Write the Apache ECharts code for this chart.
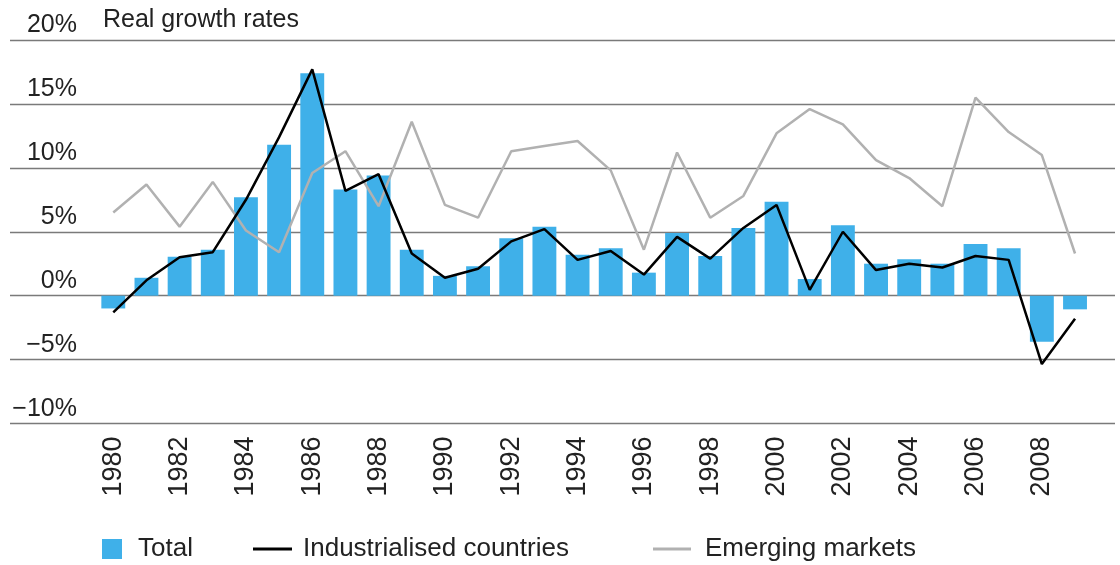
<!DOCTYPE html>
<html>
<head>
<meta charset="utf-8">
<script src="https://cdn.jsdelivr.net/npm/echarts@6/dist/echarts.min.js"></script>
<style>
html,body{margin:0;padding:0;background:#fff;}
#main{width:1120px;height:565px;}
</style>
</head>
<body>
<div id="main"></div>
<script>
// years 1980-2009
var years = [];
for (var y = 1980; y <= 2009; y++) years.push(String(y));

var total = [-1.0, 1.4, 3.05, 3.6, 7.7, 11.8, 17.4, 8.3, 9.4, 3.6,
             1.55, 2.3, 4.5, 5.4, 3.2, 3.7, 1.8, 4.9, 3.1, 5.3,
             7.35, 1.3, 5.5, 2.5, 2.85, 2.5, 4.05, 3.7, -3.6, -1.07];
var industrialised = [-1.3, 1.2, 3.0, 3.4, 7.5, 12.4, 17.7, 8.2, 9.5, 3.3,
                      1.4, 2.1, 4.25, 5.2, 2.8, 3.5, 1.65, 4.6, 2.9, 5.3,
                      7.1, 0.45, 5.0, 2.0, 2.5, 2.2, 3.1, 2.8, -5.35, -1.8];
var emerging = [6.5, 8.7, 5.4, 8.9, 5.1, 3.4, 9.6, 11.3, 7.0, 13.6,
                7.1, 6.1, 11.3, 11.7, 12.1, 9.8, 3.6, 11.2, 6.1, 7.8,
                12.7, 14.6, 13.4, 10.6, 9.2, 7.0, 15.5, 12.8, 11.0, 3.3];

var yMin = -10, yMax = 20, yStep = 5;
var font = 'Liberation Sans, Arial, sans-serif';
var txt = '#222';

var pct = function(v){
    return v < 0 ? '\u2212' + Math.abs(v) + '%' : v + '%';
};

var chart = echarts.init(document.getElementById('main'));

//一个图例一个条目，方便分别定位
var legendBase = function(name, left, w, h, pad){
    return {
        data: [name],
        left: left,
        top: 536,
        padding: 0,
        icon: 'rect',
        itemWidth: w,
        itemHeight: h,
        selectedMode: false,
        textStyle: {fontFamily: font, fontSize: 26, color: txt, padding: [0,0,0,pad]}
    };
};

chart.setOption({
    animation: false,
    title: {
        text: 'Real growth rates',
        left: 103,
        top: 8,
        padding: 0,
        textStyle: {fontFamily: font, fontSize: 25, fontWeight: 'normal', color: txt}
    },
    legend: [
        legendBase('Total', 102, 20, 20, 11),
        legendBase('Industrialised countries', 253, 39, 3, 6),
        legendBase('Emerging markets', 653, 38, 3, 9)
    ],
    grid: [
        {left: 96.7, right: 28.4, top: 40, bottom: 141.5},
        {left: 10, right: 5, top: 40, bottom: 141.5}
    ],
    xAxis: [
        {
            type: 'category',
            gridIndex: 0,
            data: years,
            axisLine: {show: false},
            axisTick: {show: false},
            axisLabel: {
                interval: 1,
                rotate: 90,
                margin: 13,
                fontFamily: font,
                fontSize: 27,
                color: txt
            }
        },
        {type: 'value', gridIndex: 1, show: false, min: 0, max: 1}
    ],
    yAxis: [
        {
            type: 'value', gridIndex: 0, min: yMin, max: yMax, interval: yStep,
            axisLine: {show: false}, axisTick: {show: false},
            axisLabel: {show: false}, splitLine: {show: false}
        },
        {
            type: 'value', gridIndex: 1, min: yMin, max: yMax, interval: yStep,
            axisLine: {show: false}, axisTick: {show: false},
            splitLine: {show: true, lineStyle: {color: '#7a7a7a', width: 1.3}},
            axisLabel: {
                inside: true,
                align: 'right',
                verticalAlign: 'bottom',
                margin: 67,
                padding: [0,0,2,0],
                fontFamily: font,
                fontSize: 25,
                color: txt,
                formatter: pct
            }
        }
    ],
    series: [
        {
            name: 'Total',
            type: 'bar',
            data: total,
            barCategoryGap: '28%',
            itemStyle: {color: '#3fb0e9'}
        },
        {
            name: 'Emerging markets',
            type: 'line',
            data: emerging,
            showSymbol: false,
            symbol: 'none',
            lineStyle: {color: '#b1b1b1', width: 2.5},
            itemStyle: {color: '#b1b1b1'}
        },
        {
            name: 'Industrialised countries',
            type: 'line',
            data: industrialised,
            showSymbol: false,
            symbol: 'none',
            lineStyle: {color: '#000', width: 2.5},
            itemStyle: {color: '#000'}
        }
    ]
});
</script>
</body>
</html>
